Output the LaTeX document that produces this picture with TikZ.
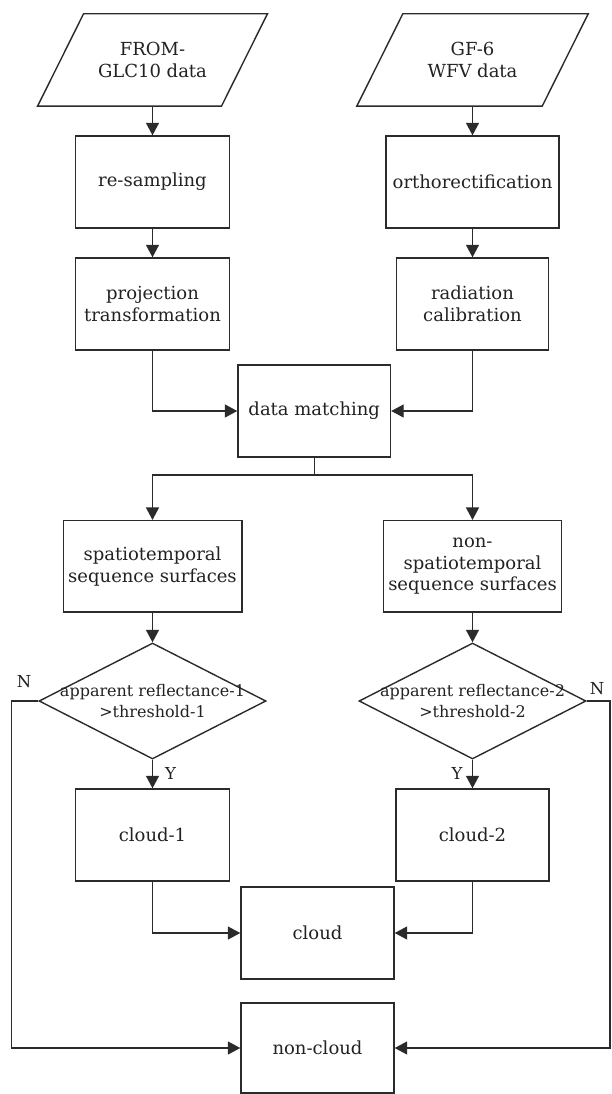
\documentclass[tikz,border=0pt]{standalone}
\usepackage{fontspec}
\setmainfont{DejaVu Serif}
\usetikzlibrary{arrows.meta,shapes.geometric}
\definecolor{linecol}{HTML}{2B2B2B}
\definecolor{txtcol}{HTML}{222222}
\tikzset{
  box/.style={draw=linecol, line width=1.4pt, minimum height=92pt, inner sep=0pt, align=center, text=txtcol, font=\fontsize{18}{21.5}\selectfont},
  plain/.style={inner sep=0pt, align=center, text=txtcol, font=\fontsize{18}{21.5}\selectfont},
  dtext/.style={inner sep=0pt, align=center, text=txtcol, font=\fontsize{16}{21}\selectfont},
  dia/.style={diamond, draw=linecol, line width=1.4pt, inner sep=0pt, minimum width=227pt, minimum height=116pt},
  lab/.style={inner sep=0pt, text=txtcol, font=\fontsize{16.5}{20}\selectfont},
  arr/.style={draw=linecol, line width=1.4pt, -{Triangle[length=12.5pt,width=13pt]}},
  para/.style={draw=linecol, line width=1.4pt, line join=miter}
}
\begin{document}
\begin{tikzpicture}[x=1pt,y=-1pt]
\useasboundingbox[fill=white] (0,0) rectangle (611,1094);
% input parallelograms
\node[plain, minimum width=183.5pt, minimum height=92pt] (p1) at (152.5,60) {FROM-\\GLC10 data};
\node[plain, minimum width=185pt, minimum height=92pt] (p2) at (472.5,60) {GF-6\\WFV data};
\draw[para] ([xshift=-23pt]p1.south west) -- ([xshift=-23pt]p1.south east) -- ([xshift=23pt]p1.north east) -- ([xshift=23pt]p1.north west) -- cycle;
\draw[para] ([xshift=-23pt]p2.south west) -- ([xshift=-23pt]p2.south east) -- ([xshift=23pt]p2.north east) -- ([xshift=23pt]p2.north west) -- cycle;
% boxes
\node[box, minimum width=154pt] (rs) at (152.5,182) {re-sampling};
\node[box, minimum width=173pt] (ort) at (472.5,182) {orthorectification};
\node[box, minimum width=154pt] (pt) at (152.5,304) {projection\\transformation};
\node[box, minimum width=152.5pt] (rc) at (472.5,304) {radiation\\calibration};
\node[box, minimum width=152.5pt] (dm) at (314.25,411) {data matching};
\node[box, minimum width=178.6pt, minimum height=91.3pt] (sp) at (152.5,566.3) {spatiotemporal\\sequence surfaces};
\node[box, minimum width=178.3pt, minimum height=91.3pt] (ns) at (472.5,566.3) {non-\\spatiotemporal\\sequence surfaces};
% decisions
\node[dia] (d1) at (152.5,701) {};
\node[dtext] (d1t) at (d1) {apparent reflectance-1\\\textgreater threshold-1};
\node[dia] (d2) at (472.5,701) {};
\node[dtext] (d2t) at (d2) {apparent reflectance-2\\\textgreater threshold-2};
% results
\node[box, minimum width=154pt] (c1) at (152.5,835) {cloud-1};
\node[box, minimum width=153pt] (c2) at (472.5,835) {cloud-2};
\node[box, minimum width=153pt] (cl) at (317.5,933) {cloud};
\node[box, minimum width=153pt, minimum height=90pt] (nc) at (317.5,1048) {non-cloud};
% connectors
\draw[arr] (p1.south) -- (rs.north);
\draw[arr] (p2.south) -- (ort.north);
\draw[arr] (rs.south) -- (pt.north);
\draw[arr] (ort.south) -- (rc.north);
\draw[arr] (pt.south) |- (dm.west);
\draw[arr] (rc.south) |- (dm.east);
\coordinate (br) at (314.25,475);
\draw[line width=1.4pt, draw=linecol] (dm.south) -- (br);
\draw[arr] (br) -| (sp.north);
\draw[arr] (br) -| (ns.north);
\draw[arr] (sp.south) -- (d1.north);
\draw[arr] (ns.south) -- (d2.north);
\draw[arr] (d1.south) -- (c1.north);
\draw[arr] (d2.south) -- (c2.north);
\draw[arr] (c1.south) |- (cl.west);
\draw[arr] (c2.south) |- (cl.east);
\coordinate (nl) at (11.5,701);
\coordinate (nr) at (610,701);
\draw[arr, line join=miter] (d1.west) -- (nl) |- (nc.west);
\draw[arr, line join=miter] (d2.east) -- (nr) |- (nc.east);
% labels
\node[lab] (n1) at (24,682) {N};
\node[lab] (n2) at (597,689) {N};
\node[lab] (y1) at (170.5,773) {Y};
\node[lab] (y2) at (457,773) {Y};
\end{tikzpicture}
\end{document}
